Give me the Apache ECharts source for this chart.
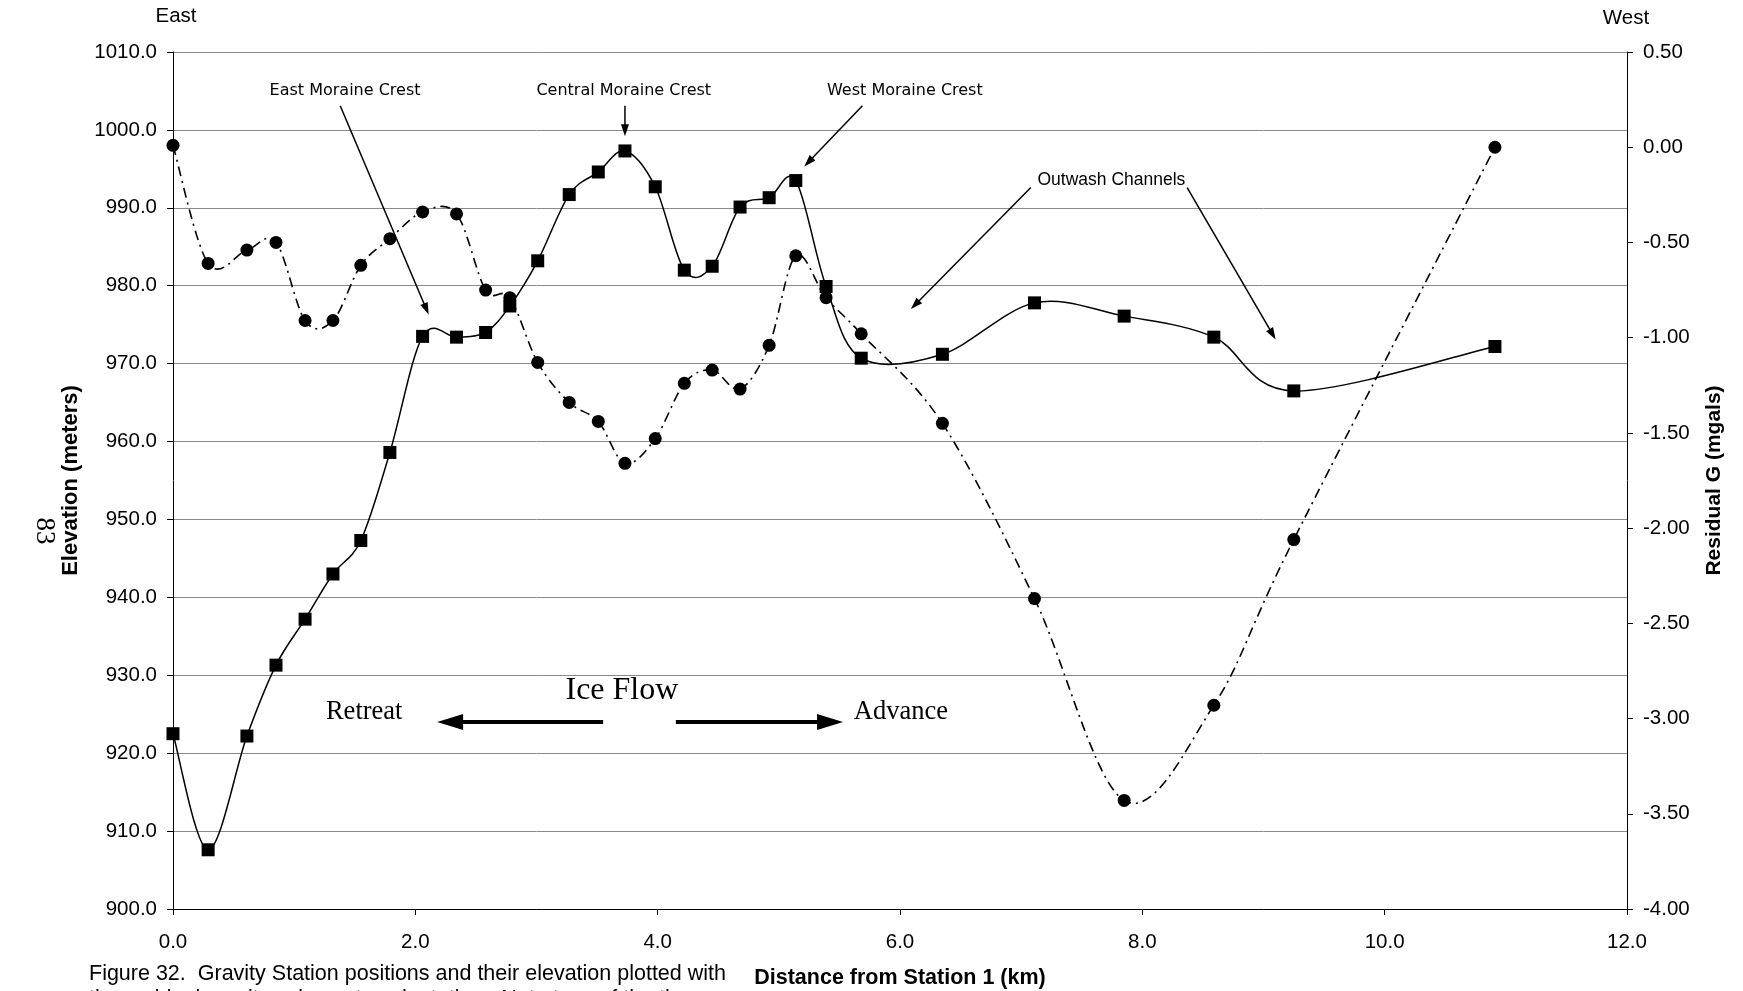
<!DOCTYPE html>
<html>
<head>
<meta charset="utf-8">
<script src="https://cdn.jsdelivr.net/npm/echarts@6/dist/echarts.min.js"></script>
<style>
  html, body { margin: 0; padding: 0; background: #fff; }
  #chart { width: 1743px; height: 991px; }
</style>
</head>
<body>
<div id="chart"></div>
<script>
// Gravity stations along the profile: distance from Station 1 (km)
const distanceKm = [0.00, 0.29, 0.61, 0.85, 1.09, 1.32, 1.55, 1.79, 2.06, 2.34, 2.58, 2.78,
                    3.01, 3.27, 3.51, 3.73, 3.98, 4.22, 4.45, 4.68, 4.92, 5.14, 5.39, 5.68,
                    6.35, 7.11, 7.85, 8.59, 9.25, 10.91];
// Station elevation (m)
const elevationM = [922.5, 907.6, 922.2, 931.3, 937.2, 943.0, 947.3, 958.6, 973.5, 973.4, 974.0, 977.4,
                    983.2, 991.7, 994.6, 997.3, 992.7, 982.0, 982.5, 990.1, 991.3, 993.5, 979.9, 970.7,
                    971.2, 977.8, 976.1, 973.4, 966.5, 972.2];
// Residual gravity (mgals)
const residualG = [0.01, -0.61, -0.54, -0.50, -0.91, -0.91, -0.62, -0.48, -0.34, -0.35, -0.75, -0.79,
                   -1.13, -1.34, -1.44, -1.66, -1.53, -1.24, -1.17, -1.27, -1.04, -0.57, -0.79, -0.98,
                   -1.45, -2.37, -3.43, -2.93, -2.06, 0.00];

// Axis ranges and tick steps
const xRange = [0, 12], xStep = 2;
const elevRange = [900, 1010], elevStep = 10;
const gravRange = [-4, 0.5], gravStep = 0.5;

// Annotations in (km, elevation) coordinates
const crestNotes = [
  { text: 'East Moraine Crest',    at: [1.42, 1005.0], from: [1.38, 1003.1], to: [2.11, 976.3] },
  { text: 'Central Moraine Crest', at: [3.72, 1005.0], from: [3.73, 1003.1], to: [3.73, 999.2] },
  { text: 'West Moraine Crest',    at: [6.04, 1005.0], from: [5.69, 1003.1], to: [5.21, 995.3] }
];
const outwashNote = { text: 'Outwash Channels', at: [7.745, 993.6] };
const outwashArrows = [
  { from: [7.08, 992.6], to: [6.09, 977.0] },
  { from: [8.37, 992.6], to: [9.10, 973.1] }
];
const flowNotes = {
  title: { text: 'Ice Flow', at: [3.705, 928.0] },
  retreat: { text: 'Retreat', at: [1.578, 925.3], from: [3.55, 924.0], to: [2.18, 924.0] },
  advance: { text: 'Advance', at: [6.007, 925.3], from: [4.15, 924.0], to: [5.53, 924.0] }
};

const SANS = '"Liberation Sans", Arial, sans-serif';
const SERIF = '"Liberation Serif", "Times New Roman", serif';
const NOTE = '"DejaVu Sans", Verdana, sans-serif';

// Cardinal-spline (Catmull-Rom) path through pixel points, as cubic Bezier segments
function smoothPath(pts) {
  let d = 'M' + pts[0][0] + ',' + pts[0][1];
  for (let i = 0; i < pts.length - 1; i++) {
    const p0 = pts[i - 1] || pts[i], p1 = pts[i], p2 = pts[i + 1], p3 = pts[i + 2] || pts[i + 1];
    const c1x = p1[0] + (p2[0] - p0[0]) / 6, c1y = p1[1] + (p2[1] - p0[1]) / 6;
    const c2x = p2[0] - (p3[0] - p1[0]) / 6, c2y = p2[1] - (p3[1] - p1[1]) / 6;
    d += ' C' + c1x + ',' + c1y + ' ' + c2x + ',' + c2y + ' ' + p2[0] + ',' + p2[1];
  }
  return d;
}

function curveSeries(name, yAxisIndex, values, lineStyle) {
  return {
    name: name, type: 'custom', xAxisIndex: 0, yAxisIndex: yAxisIndex, silent: true, clip: false, z: 2,
    data: [[distanceKm[0], values[0]]],
    renderItem: function (params, api) {
      const pts = distanceKm.map((x, i) => api.coord([x, values[i]]));
      return { type: 'path', shape: { pathData: smoothPath(pts) },
               style: Object.assign({ fill: 'none', stroke: '#000' }, lineStyle) };
    }
  };
}

const chart = echarts.init(document.getElementById('chart'), null, { renderer: 'canvas' });

const option = {
  animation: false,
  backgroundColor: '#fff',
  textStyle: { fontFamily: SANS, color: '#000' },
  grid: { left: 173, right: 116, top: 52, bottom: 82, containLabel: false, outerBoundsMode: 'none' },
  xAxis: {
    type: 'value', min: xRange[0], max: xRange[1], interval: xStep,
    axisLine: { show: true, onZero: false, lineStyle: { color: '#000', width: 1 } },
    axisTick: { show: true, length: 6, lineStyle: { color: '#000' } },
    axisLabel: { formatter: v => v.toFixed(1), color: '#000', fontSize: 20.5, fontFamily: SANS, margin: 23 },
    splitLine: { show: false },
    name: 'Distance from Station 1 (km)', nameLocation: 'middle', nameGap: 58,
    nameTextStyle: { fontWeight: 'bold', fontSize: 21.5, color: '#000', fontFamily: SANS }
  },
  yAxis: [
    {
      type: 'value', position: 'left', min: elevRange[0], max: elevRange[1], interval: elevStep,
      axisLine: { show: true, onZero: false, lineStyle: { color: '#000', width: 1 } },
      axisTick: { show: true, length: 6, lineStyle: { color: '#000' } },
      axisLabel: { formatter: v => v.toFixed(1), color: '#000', fontSize: 20.5, fontFamily: SANS, margin: 16 },
      splitLine: { show: true, lineStyle: { color: '#8a8a8a', width: 1 } },
      name: 'Elevation (meters)', nameLocation: 'middle', nameGap: 91, nameRotate: 90,
      nameTextStyle: { fontWeight: 'bold', fontSize: 22, color: '#000', fontFamily: SANS }
    },
    {
      type: 'value', position: 'right', min: gravRange[0], max: gravRange[1], interval: gravStep,
      axisLine: { show: true, onZero: false, lineStyle: { color: '#000', width: 1 } },
      axisTick: { show: true, length: 6, lineStyle: { color: '#000' } },
      axisLabel: { formatter: v => v.toFixed(2), color: '#000', fontSize: 20.5, fontFamily: SANS, margin: 16 },
      splitLine: { show: false },
      name: 'Residual G (mgals)', nameLocation: 'middle', nameGap: 77, nameRotate: 90,
      nameTextStyle: { fontWeight: 'bold', fontSize: 21, color: '#000', fontFamily: SANS }
    }
  ],
  series: [
    curveSeries('Elevation curve', 0, elevationM, { lineWidth: 1.5 }),
    curveSeries('Residual G curve', 1, residualG, { lineWidth: 1.6, lineDash: [10, 5, 2, 5] }),
    {
      name: 'Elevation', type: 'scatter', xAxisIndex: 0, yAxisIndex: 0, clip: false, z: 4,
      data: distanceKm.map((x, i) => [x, elevationM[i]]),
      symbol: 'rect', symbolSize: 13, itemStyle: { color: '#000', opacity: 1 }
    },
    {
      name: 'Residual G', type: 'scatter', xAxisIndex: 0, yAxisIndex: 1, clip: false, z: 3,
      data: distanceKm.map((x, i) => [x, residualG[i]]),
      symbol: 'circle', symbolSize: 13, itemStyle: { color: '#000', opacity: 1 }
    }
  ]
};

chart.setOption(option);

// Map (km, elevation) to pixels on the elevation axis
const toPx = p => chart.convertToPixel({ xAxisIndex: 0, yAxisIndex: 0 }, p);

function arrow(fromPt, toPt, width, headLen, headWidth) {
  const a = toPx(fromPt), b = toPx(toPt);
  const dx = b[0] - a[0], dy = b[1] - a[1];
  const len = Math.hypot(dx, dy);
  const ux = dx / len, uy = dy / len;
  const bx = b[0] - ux * headLen, by = b[1] - uy * headLen;
  return [
    { type: 'line', silent: true, z: 10,
      shape: { x1: a[0], y1: a[1], x2: bx + ux, y2: by + uy },
      style: { stroke: '#000', lineWidth: width } },
    { type: 'polygon', silent: true, z: 10,
      shape: { points: [[b[0], b[1]], [bx - uy * headWidth / 2, by + ux * headWidth / 2], [bx + uy * headWidth / 2, by - ux * headWidth / 2]] },
      style: { fill: '#000' } }
  ];
}

function label(text, p, font, opts) {
  return Object.assign({
    type: 'text', silent: true, z: 10, x: p[0], y: p[1],
    style: { text: text, x: 0, y: 0, font: font, fill: '#000',
             align: 'center', verticalAlign: 'middle', textAlign: 'center', textVerticalAlign: 'middle' }
  }, opts || {});
}

const g = [];
crestNotes.forEach(n => {
  g.push(label(n.text, toPx(n.at), '16px ' + NOTE));
  g.push(...arrow(n.from, n.to, 1.5, 12, 8));
});
g.push(label(outwashNote.text, toPx(outwashNote.at), '17.5px ' + SANS));
outwashArrows.forEach(a => g.push(...arrow(a.from, a.to, 1.5, 12, 8)));

g.push(label(flowNotes.title.text, toPx(flowNotes.title.at), '32px ' + SERIF));
g.push(label(flowNotes.retreat.text, toPx(flowNotes.retreat.at), '26.5px ' + SERIF));
g.push(label(flowNotes.advance.text, toPx(flowNotes.advance.at), '26.5px ' + SERIF));
g.push(...arrow(flowNotes.retreat.from, flowNotes.retreat.to, 4, 26, 16));
g.push(...arrow(flowNotes.advance.from, flowNotes.advance.to, 4, 26, 16));

// Direction labels above the two vertical axes
const leftTop = toPx([xRange[0], elevRange[1]]);
const rightTop = toPx([xRange[1], elevRange[1]]);
g.push(label('East', [leftTop[0] + 3, 16], '20.5px ' + SANS));
g.push(label('West', [rightTop[0] - 1, 18], '20.5px ' + SANS));

// Page number printed sideways in the margin
g.push(label('83', [44, 531], '27px ' + SERIF, { rotation: -Math.PI / 2 }));

// Figure caption
const capFont = '21.5px ' + SANS;
g.push({ type: 'text', silent: true, z: 10, x: 89, y: 974,
  style: { text: 'Figure 32.  Gravity Station positions and their elevation plotted with', x: 0, y: 0,
           font: capFont, fill: '#000', align: 'left', verticalAlign: 'middle', textAlign: 'left', textVerticalAlign: 'middle' } });
g.push({ type: 'text', silent: true, z: 10, x: 89, y: 999,
  style: { text: 'the residual gravity values at each station.  Note tops of the three', x: 0, y: 0,
           font: capFont, fill: '#000', align: 'left', verticalAlign: 'middle', textAlign: 'left', textVerticalAlign: 'middle' } });

chart.setOption({ graphic: { elements: g } });
</script>
</body>
</html>
